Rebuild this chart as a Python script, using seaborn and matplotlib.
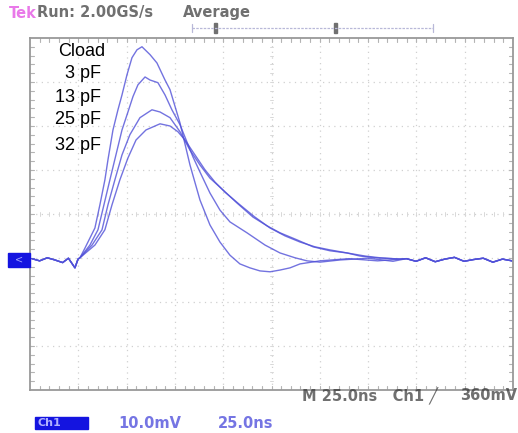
import matplotlib
matplotlib.use("Agg")
import matplotlib.pyplot as plt
from matplotlib.patches import Rectangle
import pandas as pd
import seaborn as sns

# time in ns, voltage in mV (25 ns/div, 10 mV/div)
lead_t = [0, 4, 8, 12, 16, 19, 22.4, 24]
lead_v = [0.3, -0.2, 0.5, 0.0, -0.6, 0.4, -1.8, 0.2]

tail_t = [195, 200, 205, 210, 215, 220, 225, 230, 235, 240, 245, 250]
tail_v = [0.3, -0.3, 0.5, -0.4, 0.2, 0.6, -0.3, 0.1, 0.4, -0.5, 0.2, -0.2]

t_3pf = [25.0, 27.6, 30.2, 32.8, 35.4, 38.0, 39.6, 42.2, 44.8, 46.9, 49.5, 52.1,
         54.7, 57.3, 61.5, 65.1, 69.3, 71.9, 77.1, 82.3, 87.5, 92.7, 97.9, 103.1,
         108.3, 113.5, 118.75, 124.0, 129.2, 134.4, 139.6, 150.0, 165.0, 180.0]
v_3pf = [0.5, 2.7, 5.0, 7.3, 12.6, 18.3, 22.9, 29.7, 34.3, 37.7, 42.3, 46.2,
         48.0, 48.7, 46.9, 45.0, 41.1, 38.9, 31.3, 21.7, 13.7, 8.0, 4.1, 1.1,
         -0.9, -1.8, -2.5, -2.7, -2.3, -1.8, -0.9, -0.2, 0.3, -0.2]

t_13pf = [25.0, 30.2, 34.4, 37.5, 40.6, 43.75, 46.9, 50.0, 52.6, 55.2, 58.9, 61.5,
          65.6, 69.3, 72.9, 77.1, 83.9, 87.5, 92.7, 97.9, 103.1, 112.0, 121.4,
          129.2, 137.0, 143.2, 150.0, 160.4, 175.0, 188.0]
v_13pf = [0.5, 3.4, 6.9, 12.6, 18.3, 24.0, 29.7, 33.8, 37.3, 40.0, 41.8, 41.1,
          40.5, 37.7, 34.3, 30.9, 23.5, 20.1, 15.3, 11.4, 8.7, 6.2, 3.4,
          1.6, 0.5, -0.2, -0.5, 0.0, 0.4, -0.3]

t_25pf = [25.0, 31.3, 36.5, 39.6, 43.2, 46.9, 51.0, 56.25, 62.5, 66.7, 71.9, 77.1,
          82.3, 87.5, 92.7, 99.5, 106.8, 115.1, 122.4, 129.2, 138.0, 146.4, 155.2,
          164.1, 170.8, 178.6, 191.7]
v_25pf = [0.5, 3.4, 6.9, 12.6, 18.3, 24.0, 28.6, 32.5, 34.3, 33.8, 32.5, 29.3,
          25.1, 21.7, 18.7, 16.0, 13.0, 9.8, 7.8, 6.2, 4.6, 3.0, 2.1,
          1.6, 0.9, 0.5, 0.2]

t_32pf = [25.0, 32.8, 38.0, 41.7, 45.8, 50.0, 54.2, 59.4, 66.7, 71.9, 76.0, 79.7,
          84.9, 90.1, 95.3, 100.5, 108.3, 116.1, 124.0, 131.8, 139.6, 147.4, 155.2,
          164.1, 173.4, 181.25, 191.7]
v_32pf = [0.5, 3.4, 6.9, 12.6, 18.3, 23.3, 27.4, 29.7, 31.1, 30.6, 29.3, 27.4,
          24.0, 20.6, 17.8, 15.5, 12.6, 9.8, 7.3, 5.5, 4.1, 3.0, 2.3,
          1.6, 0.9, 0.5, 0.2]

cload_labels = ["3 pF", "13 pF", "25 pF", "32 pF"]
traces = [(t_3pf, v_3pf), (t_13pf, v_13pf), (t_25pf, v_25pf), (t_32pf, v_32pf)]

rows = []
for label, (tt, vv) in zip(cload_labels, traces):
    for t, v in zip(lead_t + tt + tail_t, lead_v + vv + tail_v):
        rows.append({"t": t, "v": v, "cload": label})
df = pd.DataFrame(rows)

sns.set_theme(style="white")
plt.rcParams["font.family"] = ["DejaVu Sans"]

W, H = 518, 433
fig = plt.figure(figsize=(W / 100, H / 100), dpi=100)
fig.patch.set_facecolor("white")


def fx(x):
    return x / W


def fy(y):
    return 1 - y / H


ax = fig.add_axes([fx(30), fy(390), 483 / W, 352 / H])
trace_color = "#5050d8"
sns.lineplot(data=df, x="t", y="v", hue="cload", palette=[trace_color] * 4,
             estimator=None, sort=False, legend=False, lw=1.0, alpha=0.8, ax=ax)
ax.set_xlim(-1, 250.5)
ax.set_ylim(-29.7, 50.7)
ax.set_xticks([])
ax.set_yticks([])
ax.set_xlabel("")
ax.set_ylabel("")
for s in ax.spines.values():
    s.set_color("#999999")
    s.set_linewidth(1.3)

# graticule: 10 x 8 divisions, dotted
grid_kw = dict(transform=ax.transAxes, color="#d0d0d0", lw=0.9, ls=(0, (1, 3.5)), zorder=0)
for i in range(1, 10):
    ax.plot([i / 10, i / 10], [0, 1], **grid_kw)
for j in range(1, 8):
    ax.plot([0, 1], [j / 8, j / 8], **grid_kw)

# minor ticks on the frame and centre cross
tick_kw = dict(transform=ax.transAxes, color="#b4b4b4", lw=0.8, zorder=0)
cross_kw = dict(transform=ax.transAxes, color="#d8d8d8", lw=0.7, zorder=0)
for k in range(1, 50):
    x = k / 50
    ax.plot([x, x], [0, 0.012], **tick_kw)
    ax.plot([x, x], [1, 0.988], **tick_kw)
    ax.plot([x, x], [0.495, 0.505], **cross_kw)
for k in range(1, 40):
    y = k / 40
    ax.plot([0, 0.008], [y, y], **tick_kw)
    ax.plot([1, 0.992], [y, y], **tick_kw)
    ax.plot([0.497, 0.503], [y, y], **cross_kw)

# legend-like labels
lab_kw = dict(family="Liberation Sans", fontsize=13, color="black", va="center")
fig.text(fx(82), fy(52), "Cload", ha="center", **lab_kw)
for label, y in zip(cload_labels, [74, 97, 120, 145]):
    fig.text(fx(101), fy(y), label, ha="right", **lab_kw)

# scope status text
st_kw = dict(fontsize=10.5, fontweight="bold", va="center", alpha=0.7)
fig.text(fx(9), fy(13), "Tek", color="#e040e0", **st_kw)
fig.text(fx(37), fy(13), "Run: 2.00GS/s", color="#333333", **st_kw)
fig.text(fx(183), fy(13), "Average", color="#333333", **st_kw)

# trigger position bar
fig.add_artist(plt.Line2D([fx(192), fx(433)], [fy(28), fy(28)], color="#b8b8d8", lw=0.9, ls=(0, (2, 1))))
for xb in (192, 433):
    fig.add_artist(plt.Line2D([fx(xb), fx(xb)], [fy(24), fy(32)], color="#b8b8d8", lw=0.9))
for xm in (215, 335):
    fig.add_artist(Rectangle((fx(xm - 1.5), fy(33)), 3 / W, 10 / H, color="#707070"))

# ground marker
fig.add_artist(Rectangle((fx(8), fy(267)), 22 / W, 14 / H, color="#1414e0"))
fig.text(fx(19), fy(260), "<", color="#9fa0ff", fontsize=7, ha="center", va="center")

# bottom readouts
fig.text(fx(302), fy(396), "M 25.0ns   Ch1 \u2571", color="#333333", ha="left", **st_kw)
fig.text(fx(517), fy(396), "360mV", color="#333333", ha="right", **st_kw)
fig.add_artist(Rectangle((fx(35), fy(429)), 53 / W, 12 / H, color="#1414e0"))
fig.text(fx(38), fy(423), "Ch1", color="#b0b0ff", fontsize=8, fontweight="bold", va="center")
fig.text(fx(118), fy(423), "10.0mV", color="#3a3ad8", **st_kw)
fig.text(fx(218), fy(423), "25.0ns", color="#3a3ad8", **st_kw)

fig.savefig("out.png", dpi=100)
